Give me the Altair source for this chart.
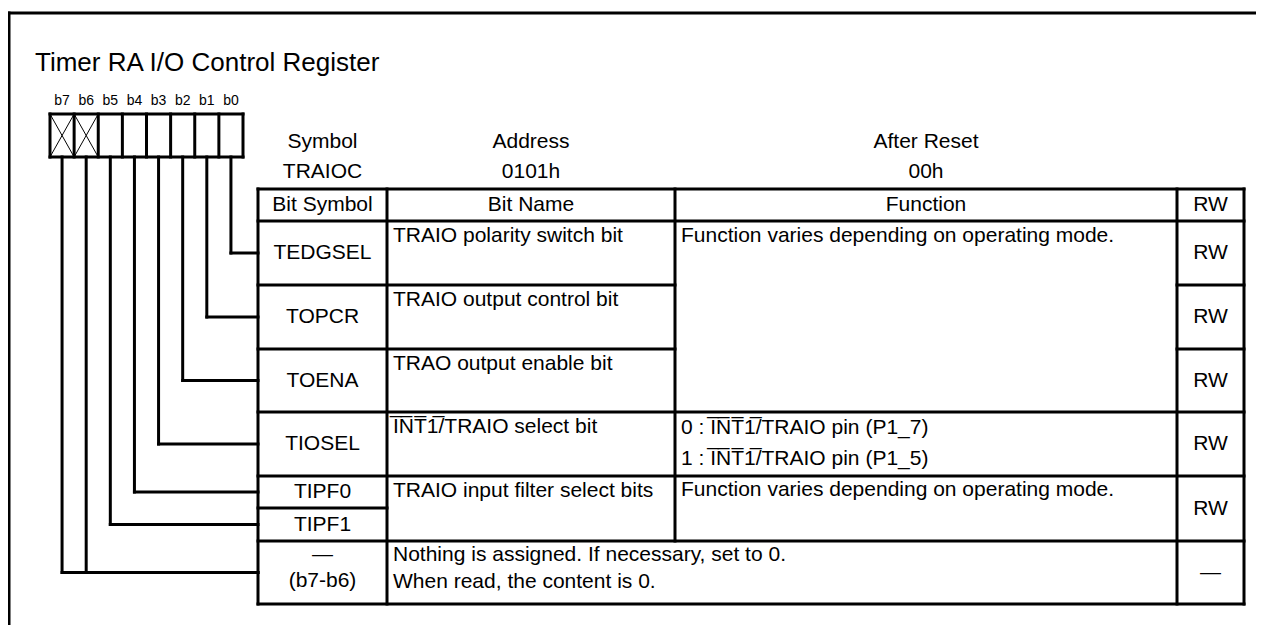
import altair as alt
import pandas as pd

# ---------------- content ----------------
TITLE = "Timer RA I/O Control Register"
BIT_LABELS = ["b7", "b6", "b5", "b4", "b3", "b2", "b1", "b0"]
RESERVED_BITS = ["b7", "b6"]
INFO_LABELS = ["Symbol", "Address", "After Reset"]
INFO_VALUES = ["TRAIOC", "0101h", "00h"]
COLUMN_TITLES = ["Bit Symbol", "Bit Name", "Function", "RW"]

OL = "\u0305"
INT1 = "".join(c + OL for c in "INT1")

BIT_SYMBOLS = ["TEDGSEL", "TOPCR", "TOENA", "TIOSEL", "TIPF0", "TIPF1"]
SYMBOL_BITS = ["b0", "b1", "b2", "b3", "b4", "b5"]
BIT_NAMES = [
    "TRAIO polarity switch bit",
    "TRAIO output control bit",
    "TRAO output enable bit",
    INT1 + "/TRAIO select bit",
    "TRAIO input filter select bits",
]
FUNC_MODE = "Function varies depending on operating mode."
FUNC_TIOSEL = ["0 : " + INT1 + "/TRAIO pin (P1_7)", "1 : " + INT1 + "/TRAIO pin (P1_5)"]
RW_VALUES = ["RW", "RW", "RW", "RW", "RW", "\u2014"]
RESERVED_SYMBOL = ["\u2014", "(b7-b6)"]
RESERVED_TEXT = ["Nothing is assigned. If necessary, set to 0.", "When read, the content is 0."]

# ---------------- layout (pixel grid of the figure) ----------------
W, H = 1248, 617
COL = [258, 387, 675, 1177, 1244]
ROW = [189, 221, 285, 349, 412, 476, 508, 541, 604]
BOX = (50, 243, 114, 157)
FRAME = (9, 13)
FONT = "Liberation Sans"
FS = 21

segs = []


def seg(x1, y1, x2, y2, w=3):
    segs.append({"x": x1, "y": y1, "x2": x2, "y2": y2, "w": w})


# outer frame (top and left)
seg(FRAME[0], FRAME[1], 8 + W, FRAME[1])
seg(FRAME[0], FRAME[1], FRAME[0], 8 + H)

# bit boxes
bx0, bx1, by0, by1 = BOX
cw = (bx1 - bx0) / len(BIT_LABELS)
seg(bx0, by0, bx1, by0)
seg(bx0, by1, bx1, by1)
for k in range(len(BIT_LABELS) + 1):
    seg(bx0 + k * cw, by0, bx0 + k * cw, by1)
for k, b in enumerate(BIT_LABELS):
    if b in RESERVED_BITS:
        seg(bx0 + k * cw, by0, bx0 + (k + 1) * cw, by1, 1)
        seg(bx0 + k * cw, by1, bx0 + (k + 1) * cw, by0, 1)

# table rules
for r in [ROW[0], ROW[1], ROW[4], ROW[5], ROW[7], ROW[8]]:
    seg(COL[0], r, COL[4], r)
for r in [ROW[2], ROW[3]]:
    seg(COL[0], r, COL[2], r)
    seg(COL[3], r, COL[4], r)
seg(COL[0], ROW[6], COL[1], ROW[6])
for c in [COL[0], COL[1], COL[3], COL[4]]:
    seg(c, ROW[0], c, ROW[8])
seg(COL[2], ROW[0], COL[2], ROW[7])

# leader lines from bits to bit-symbol rows
row_mid = [(ROW[i] + ROW[i + 1]) / 2 for i in range(1, 8)]
for k, b in enumerate(BIT_LABELS):
    xc = bx0 + (k + 0.5) * cw
    if b in SYMBOL_BITS:
        yy = row_mid[SYMBOL_BITS.index(b)]
    else:
        yy = row_mid[6]
    seg(xc, by1, xc, yy)
    seg(xc, yy, COL[0], yy)

seg_df = pd.DataFrame(segs)

# ---------------- texts ----------------
center_txt = []
left_txt = []


def ct(x, y, t, s=FS):
    center_txt.append({"x": x, "y": y, "t": t, "s": s})


def lt(x, y, t, s=FS):
    left_txt.append({"x": x, "y": y, "t": t, "s": s})


lt(35, 63, TITLE, 26)
for k, b in enumerate(BIT_LABELS):
    ct(bx0 + (k + 0.5) * cw, 101, b, 14)

col_mid = [(COL[i] + COL[i + 1]) / 2 for i in range(4)]
for i in range(3):
    ct(col_mid[i], 142, INFO_LABELS[i])
    ct(col_mid[i], 172, INFO_VALUES[i])
for i in range(4):
    ct(col_mid[i], (ROW[0] + ROW[1]) / 2, COLUMN_TITLES[i])

for i, s in enumerate(BIT_SYMBOLS):
    ct(col_mid[0], row_mid[i], s)
ct(col_mid[0], ROW[7] + 14, RESERVED_SYMBOL[0])
ct(col_mid[0], ROW[7] + 40, RESERVED_SYMBOL[1])

xn = COL[1] + 6
xf = COL[2] + 6
name_rows = [ROW[1], ROW[2], ROW[3], ROW[4], ROW[5]]
for i, n in enumerate(BIT_NAMES):
    lt(xn, name_rows[i] + 15, n)
lt(xf, ROW[1] + 15, FUNC_MODE)
lt(xf, ROW[4] + 16, FUNC_TIOSEL[0])
lt(xf, ROW[4] + 47, FUNC_TIOSEL[1])
lt(xf, ROW[5] + 14, FUNC_MODE)
lt(xn, ROW[7] + 14, RESERVED_TEXT[0])
lt(xn, ROW[7] + 41, RESERVED_TEXT[1])

rw_y = [row_mid[0], row_mid[1], row_mid[2], row_mid[3], (ROW[5] + ROW[7]) / 2, row_mid[6]]
for i, v in enumerate(RW_VALUES):
    ct(col_mid[3], rw_y[i], v)

ctr_df = pd.DataFrame(center_txt)
left_df = pd.DataFrame(left_txt)

xs = alt.Scale(domain=[8, 8 + W], nice=False, zero=False)
ys = alt.Scale(domain=[8, 8 + H], nice=False, zero=False, reverse=True)

lines = alt.Chart(seg_df).mark_rule(color="black", strokeCap="square", clip=False).encode(
    x=alt.X("x:Q", scale=xs, axis=None),
    y=alt.Y("y:Q", scale=ys, axis=None),
    x2="x2:Q",
    y2="y2:Q",
    strokeWidth=alt.StrokeWidth("w:Q", scale=None, legend=None),
)

ctext = alt.Chart(ctr_df).mark_text(align="center", baseline="middle", font=FONT, color="black").encode(
    x=alt.X("x:Q", scale=xs, axis=None),
    y=alt.Y("y:Q", scale=ys, axis=None),
    text="t:N",
    size=alt.Size("s:Q", scale=None, legend=None),
)

ltext = alt.Chart(left_df).mark_text(align="left", baseline="middle", font=FONT, color="black").encode(
    x=alt.X("x:Q", scale=xs, axis=None),
    y=alt.Y("y:Q", scale=ys, axis=None),
    text="t:N",
    size=alt.Size("s:Q", scale=None, legend=None),
)

chart = (
    alt.layer(lines, ctext, ltext)
    .properties(width=W, height=H, padding=0, autosize=alt.AutoSizeParams(type="none"), background="white")
    .configure_view(stroke=None)
)

chart.save("out.html", embed_options={"renderer": "svg", "actions": False})
